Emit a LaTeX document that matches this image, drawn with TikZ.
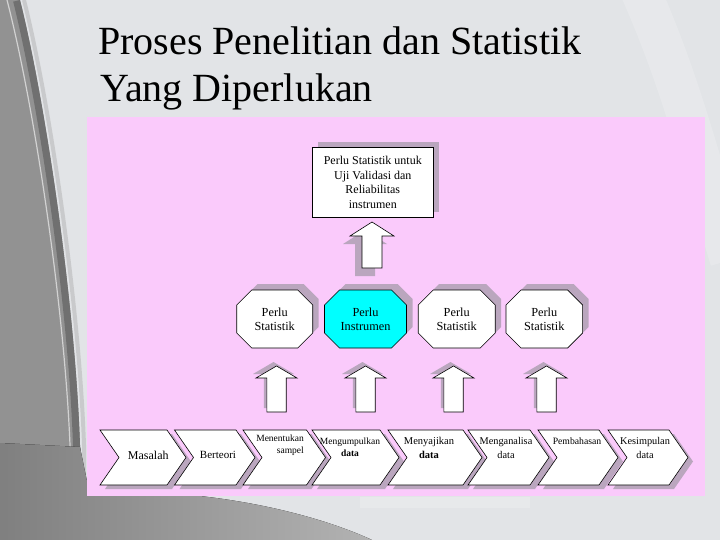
\documentclass[tikz,border=0pt]{standalone}
\usepackage{fontspec}
\setmainfont{Liberation Serif}
\definecolor{bgc}{RGB}{226,228,231}
\definecolor{pinkc}{RGB}{250,202,251}
\definecolor{shad}{RGB}{186,166,190}
\definecolor{cyanc}{RGB}{0,255,255}
\definecolor{swoosh}{RGB}{146,146,146}
\definecolor{swooshdark}{RGB}{112,112,112}
\definecolor{bottomgray}{RGB}{150,150,150}
\newcommand\blkarrow[7]{%
  \fill[shad,shift={#7}] (#1,#2) -- (#1+#5,#3) -- (#1+#6,#3) -- (#1+#6,#4) -- (#1-#6,#4) -- (#1-#6,#3) -- (#1-#5,#3) -- cycle;
  \filldraw[shapeline,fill=white] (#1,#2) -- (#1+#5,#3) -- (#1+#6,#3) -- (#1+#6,#4) -- (#1-#6,#4) -- (#1-#6,#3) -- (#1-#5,#3) -- cycle;}
\newcommand\octo[6]{% name, cx, cy, halfwidth, fill, text
  \begin{scope}[shift={(#2,#3)}]
  \fill[shad,shift={(6,-6)}] (-#4+15,-29) -- (#4-15,-29) -- (#4,-14) -- (#4,14) -- (#4-15,29) -- (-#4+15,29) -- (-#4,14) -- (-#4,-14) -- cycle;
  \filldraw[shapeline,fill=#5] (-#4+15,-29) -- (#4-15,-29) -- (#4,-14) -- (#4,14) -- (#4-15,29) -- (-#4+15,29) -- (-#4,14) -- (-#4,-14) -- cycle;
  \node[octtext] (#1) at (0,0) {#6};
  \end{scope}}
\newcommand\chev[2]{% left, right
  \fill[shad,shift={(5,4)}] (#1,430) -- (#2,430) -- (#2+19,457.5) -- (#2,485) -- (#1,485) -- (#1+19,457.5) -- cycle;
  \filldraw[shapeline,fill=white] (#1,430) -- (#2,430) -- (#2+19,457.5) -- (#2,485) -- (#1,485) -- (#1+19,457.5) -- cycle;}
\begin{document}
\begin{tikzpicture}[x=1pt,y=-1pt,
  shapeline/.style={draw=black,line width=0.6pt},
  octtext/.style={align=center,inner sep=0pt,font=\fontsize{12.3}{14}\selectfont},
  titletext/.style={anchor=base west,inner sep=0pt,font=\fontsize{40}{44}\selectfont},
  chevtext/.style={align=center,inner sep=0pt}]
\useasboundingbox (0,0) rectangle (720,540);
% background
\fill[bgc] (0,0) rectangle (720,540);
\draw[white,opacity=0.18,line width=40pt] (640,-10) .. controls (680,80) and (700,160) .. (730,260);
% left swoosh
\fill[swoosh] (0,0) -- (20,0) .. controls (45,100) and (75,300) .. (80,445) -- (80,496) -- (0,496) -- cycle;
\begin{scope}
\clip (0,0) -- (20,0) .. controls (45,100) and (75,300) .. (80,445) -- (80,496) -- (0,496) -- cycle;
\draw[swooshdark,line width=14pt] (20,0) .. controls (45,100) and (75,300) .. (80,445) -- (80,496);
\draw[gray!35,line width=1.2pt] (7,0) .. controls (33,100) and (64,300) .. (70,445) -- (71,496);
\end{scope}
\draw[gray!60,line width=4pt,opacity=0.5] (24,0) .. controls (49,100) and (79,300) .. (84,445) -- (84,496);
% bottom gray area
\fill[left color=bottomgray!85!black,right color=gray!60] (0,443) -- (80,447) -- (90,496) -- (200,496) .. controls (280,505) and (340,525) .. (372,540) -- (0,540) -- cycle;
\fill[white,opacity=0.2] (360,497) rectangle (530,508);
% title
\node[titletext] (t1) at (98,54.3) {Proses Penelitian dan Statistik};
\node[titletext] (t2) at (100,101.7) {Yang Diperlukan};
% pink panel
\fill[pinkc] (87,117) rectangle (705,496);
% top box
\fill[shad] (318,142) rectangle (439,212);
\node[shapeline,fill=white,minimum width=121pt,minimum height=70pt,inner sep=0pt,align=center,anchor=north west,font=\fontsize{12}{14.6}\selectfont] (box) at (312,147) {Perlu Statistik untuk\\Uji Validasi dan\\Reliabilitas\\instrumen};
% top arrow
\blkarrow{372}{222}{236}{268}{22}{10}{(-7,8)}
% octagons
\octo{o1}{274.7}{319}{38}{white}{Perlu\\Statistik}
\octo{o2}{365.5}{319}{41}{cyanc}{Perlu\\Instrumen}
\octo{o3}{456.7}{319}{38.5}{white}{Perlu\\Statistik}
\octo{o4}{544.3}{319}{38.3}{white}{Perlu\\Statistik}
% lower arrows
\blkarrow{276.5}{366}{378}{412}{20.5}{9.7}{(-3,-4)}
\blkarrow{365.5}{366}{378}{412}{20.5}{9.7}{(-3,-4)}
\blkarrow{453.5}{366}{378}{412}{20.5}{9.7}{(-3,-4)}
\blkarrow{546.5}{366}{378}{412}{20.5}{9.7}{(-3,-4)}
% chevrons
\chev{100}{167}
\chev{174.5}{236}
\chev{243}{306.5}
\chev{312}{380}
\chev{388}{463}
\chev{468}{530}
\chev{538}{599}
\chev{608}{669}
\node[chevtext,font=\fontsize{12}{14}\selectfont] (c1) at (148.3,455) {Masalah};
\node[chevtext,font=\fontsize{11}{13}\selectfont] (c2) at (218,455) {Berteori};
\node[chevtext,align=right,anchor=east,font=\fontsize{9.5}{12}\selectfont] (c3) at (304,445) {Menentukan\\sampel};
\node[chevtext,font=\fontsize{9.5}{12}\selectfont] (c4) at (350,447) {Mengumpulkan\\\textbf{data}};
\node[chevtext,font=\fontsize{10.5}{14}\selectfont] (c5) at (429,448) {Menyajikan\\\textbf{data}};
\node[chevtext,font=\fontsize{10.3}{14}\selectfont] (c6) at (506,448) {Menganalisa\\data};
\node[chevtext,font=\fontsize{9.7}{12}\selectfont] (c7) at (577,441.5) {Pembahasan};
\node[chevtext,font=\fontsize{10.3}{14}\selectfont] (c8) at (645,448) {Kesimpulan\\data};
\end{tikzpicture}
\end{document}
